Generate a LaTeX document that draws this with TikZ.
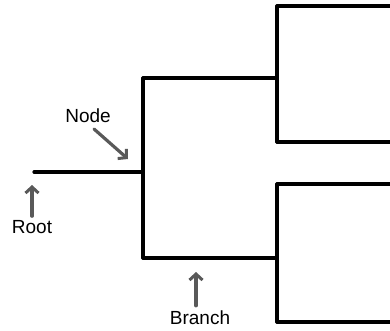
\documentclass[tikz,border=0pt]{standalone}
\usepackage{fontspec}
\setmainfont{Liberation Sans}
\usetikzlibrary{arrows.meta}
\usetikzlibrary{positioning}

\begin{document}
\begin{tikzpicture}[
        x=1pt, y=-1pt,
        every node/.style={font=\fontsize{19}{21}\selectfont, inner sep=0pt},
        edge/.style={line width=3.2pt, line cap=round},
        pointer/.style={-{Straight Barb[length=6pt, width=13pt, line width=3pt]}, line width=3.2pt, draw=black!65, line cap=round}
    ]
        \useasboundingbox (0,0) rectangle (390,331);

        % Tree points
        \coordinate (root) at (34,172);
        \coordinate (n1) at (143,172);
        \coordinate (n1top) at (143,78);
        \coordinate (n1bot) at (143,258);
        \coordinate (n2) at (277,78);
        \coordinate (n2top) at (277,6);
        \coordinate (n2bot) at (277,142);
        \coordinate (n3) at (277,258);
        \coordinate (n3top) at (277,184);
        \coordinate (n3bot) at (277,322);
        \coordinate (l1) at (390,6);
        \coordinate (l2) at (390,142);
        \coordinate (l3) at (390,184);
        \coordinate (l4) at (390,322);

        % Branches
        \draw[edge] (root) -- (n1);
        \draw[edge] (n1top) -- (n1bot);
        \draw[edge] (n1top) -- (n2);
        \draw[edge] (n1bot) -- (n3);
        \draw[edge] (n2top) -- (n2bot);
        \draw[edge] (n3top) -- (n3bot);
        \draw[edge] (n2top) -- (l1);
        \draw[edge] (n2bot) -- (l2);
        \draw[edge] (n3top) -- (l3);
        \draw[edge] (n3bot) -- (l4);

        % Labels
        \node (nodelbl) at (88,116) {Node};
        \node (rootlbl) at (32,227) {Root};
        \node (branchlbl) at (200,318) {Branch};

        \coordinate (nodetail) at (94,129);
        \coordinate (nodetip) at (128,159);
        \coordinate (roottip) at (32,185);
        \coordinate (branchtip) at (196,272);

        \draw[pointer] (nodetail) -- (nodetip);
        \draw[pointer] (rootlbl.north) ++(0,-4) -- (roottip);
        \draw[pointer] (branchlbl.north) ++(-4,-5) -- (branchtip);
    \end{tikzpicture}
\end{document}
